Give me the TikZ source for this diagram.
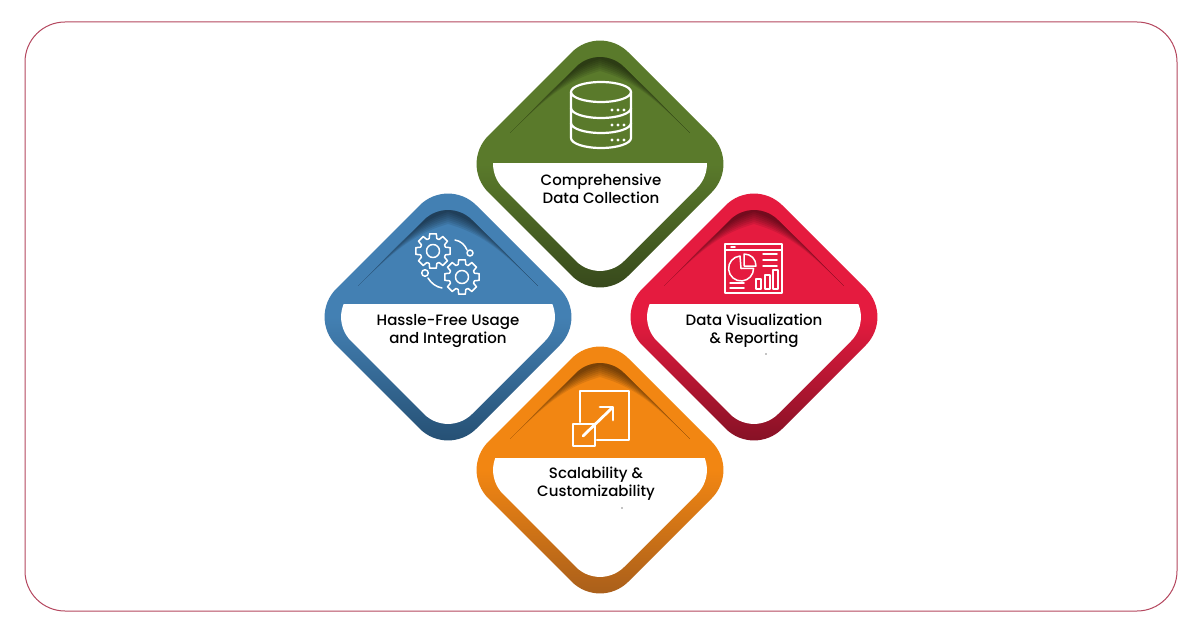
\documentclass[tikz,border=0pt]{standalone}
\usepackage{fontspec}
\setmainfont{Poppins Medium}
\definecolor{frameline}{HTML}{B5475F}
\definecolor{greenbase}{HTML}{5A7A2B}
\definecolor{greendark}{HTML}{33431A}
\definecolor{bluebase}{HTML}{4380B3}
\definecolor{bluedark}{HTML}{224A6C}
\definecolor{redbase}{HTML}{E51B3F}
\definecolor{reddark}{HTML}{7A1022}
\definecolor{orangebase}{HTML}{F28612}
\definecolor{orangedark}{HTML}{A05A1C}
\tikzset{
  caption/.style={align=center, font=\fontsize{15}{18}\selectfont, text=black, inner sep=0pt},
  icon/.style={draw=white, line width=1.5pt, line join=round, line cap=round},
}
\begin{document}
\begin{tikzpicture}[x=1pt,y=-1pt]
  \useasboundingbox (0,0) rectangle (1203,634);
  \fill[white] (0,0) rectangle (1203,634);
  \draw[frameline, line width=1pt, rounded corners=40pt] (25,22) rectangle (1177,611);
  % the four tiles
  \foreach \cx/\cy/\cut/\base/\dark in {600/164/-1/greenbase/greendark, 448/317/-13/bluebase/bluedark, 754/317/-13/redbase/reddark, 600/470/-12/orangebase/orangedark}{
    \begin{scope}[shift={(\cx,\cy)}]
      \shade[top color=\base, bottom color=\dark, middle color=\base, rounded corners=40pt] (0,-140) -- (140,0) -- (0,140) -- (-140,0) -- cycle;
      \begin{scope}
        \clip (-130,\cut) rectangle (130,130);
        \fill[white, rounded corners=34pt] (0,-121) -- (121,0) -- (0,121) -- (-121,0) -- cycle;
      \end{scope}
      \foreach \d in {2,4,...,14}{
        \fill[black, opacity=.09] (-90,-31) [rounded corners=34pt] -- (0,-121) [sharp corners] -- (90,-31) .. controls (55,-65) and (35,-97+\d) .. (0,-107+\d) .. controls (-35,-97+\d) and (-55,-65) .. (-90,-31) -- cycle;
      }
    \end{scope}
  }
  % captions
  \node[caption] (collect) at (601,189) {Comprehensive\\Data Collection};
  \node[caption] (usage) at (448,331) {Hassle-Free Usage\\and Integration};
  \node[caption] (report) at (754,331) {Data Visualization\\\& Reporting};
  \node[caption] (scale) at (596,484) {Scalability \&\\Customizability};
  \fill[black] (766,354) circle (.6pt);
  \fill[black] (622,508) circle (.6pt);
  % database icon
  \draw[icon, line width=2.2pt] (601,92) ellipse (30 and 10);
  \draw[icon, line width=2.2pt] (571,92) -- (571,138) arc[start angle=180, end angle=0, x radius=30, y radius=10] -- (631,92);
  \foreach \y in {108,123}{
    \draw[icon, line width=2.2pt] (571,\y) arc[start angle=180, end angle=0, x radius=30, y radius=10];
  }
  \foreach \y in {110,125,140}{
    \foreach \x in {612,618,624}{
      \fill[white] (\x,\y) circle (1.7pt);
    }
  }
  % gears icon
  \foreach \gx/\gy in {433/251, 462/277}{
    \begin{scope}[shift={(\gx,\gy)}]
      \draw[icon] (-11:17.5) \foreach \a in {0,45,...,315}{ -- (\a-11:17.5) -- (\a+11:17.5) -- (\a+17:13) -- (\a+28:13) } -- cycle;
      \draw[icon] (0,0) circle (6.5);
    \end{scope}
  }
  \draw[icon] (455,240) .. controls (461,241) and (465,245) .. (467,250);
  \draw[icon] (470,253) circle (3);
  \draw[icon] (425,273) circle (3.3);
  \draw[icon] (428,278) .. controls (431,283) and (436,287) .. (442,288);
  % report icon
  \draw[icon] (725,244) rectangle (782,293);
  \draw[icon] (725,250) -- (782,250);
  \draw[icon] (731,247) -- (735,247);
  \draw[icon] (740,256) arc[start angle=-95, end angle=-360, radius=12.5] -- (741,268.5) -- cycle;
  \draw[icon] (744,254) -- (744,266) -- (756,266) .. controls (756,259) and (751,254) .. (744,254);
  \foreach \y in {254,260,266}{
    \draw[icon] (763,\y) -- (777,\y);
  }
  \foreach \y in {283,288}{
    \draw[icon] (730,\y) -- (744,\y);
  }
  \foreach \bx/\by in {756/279, 765/275, 773/270}{
    \draw[icon] (\bx,\by) rectangle (\bx+5,289);
  }
  % scaling icon
  \draw[icon, line width=2.8pt] (580,422) -- (580,391) -- (629,391) -- (629,440) -- (597,440);
  \draw[icon, line width=2.8pt] (573,424) rectangle (595,446);
  \draw[icon, line width=2.8pt] (583,436) -- (612,408);
  \draw[icon, line width=2.8pt] (600,407) -- (613,407) -- (613,420);
\end{tikzpicture}
\end{document}
